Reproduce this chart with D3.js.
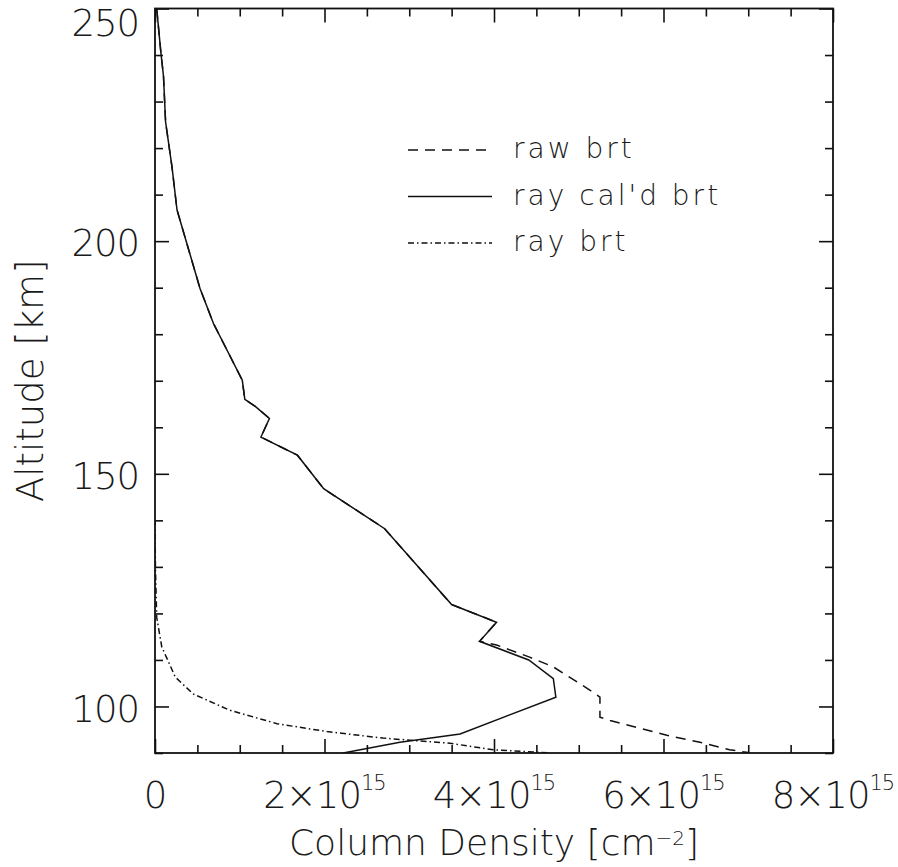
<!DOCTYPE html>
<html>
<head>
<meta charset="utf-8">
<script src="https://cdn.jsdelivr.net/npm/d3@7"></script>
<style>
  body { margin: 0; background: #fff; }
  svg text { font-family: "DejaVu Sans", sans-serif; font-weight: 200; fill: #1a1a1a; }
</style>
</head>
<body>
<div id="chart"></div>
<script>
// values in units of 1e15 cm^-2, altitude in km
var calAlt = [250, 240.4, 235.5, 225.6, 216, 206.7, 198, 189.9, 182.3, 170.1, 166, 164.4, 161.9, 157.9, 154, 146.8, 138.2, 121.9, 118.1, 114, 110, 106, 102, 94.1, 92.3, 90];
var calVal = [0.02, 0.07, 0.10, 0.125, 0.2, 0.26, 0.4, 0.53, 0.69, 1.03, 1.06, 1.19, 1.35, 1.25, 1.68, 1.99, 2.71, 3.50, 4.03, 3.83, 4.41, 4.70, 4.73, 3.60, 2.89, 2.22];

var rawAlt = [250, 240.4, 235.5, 225.6, 216, 206.7, 198, 189.9, 182.3, 170.1, 166, 164.4, 161.9, 157.9, 154, 146.8, 138.2, 121.9, 118.1, 114, 113.2, 110.6, 108.5, 104, 102, 97.7, 97, 93.8, 92.3, 90.7, 90.1];
var rawVal = [0.02, 0.07, 0.10, 0.125, 0.2, 0.26, 0.4, 0.53, 0.69, 1.03, 1.06, 1.19, 1.35, 1.25, 1.68, 1.99, 2.71, 3.50, 4.03, 3.83, 4.03, 4.42, 4.70, 5.09, 5.25, 5.25, 5.37, 6.04, 6.43, 6.78, 7.0];

var rayAlt = [140, 130, 119.2, 112.8, 106.3, 102.7, 99.2, 96.3, 94.6, 93.2, 92.1, 90.7, 90.0];
var rayVal = [0.0, 0.005, 0.02, 0.08, 0.24, 0.45, 0.88, 1.44, 2.03, 2.69, 3.48, 3.99, 4.66];

var xMajor = [0, 2, 4, 6, 8];
var yMajor = [100, 150, 200, 250];
var legendNames = ["raw brt", "ray cal'd brt", "ray brt"];

var W = 898, H = 867;
var margin = { top: 8.5, right: 65, bottom: 114, left: 155 };
var width = W - margin.left - margin.right;
var height = H - margin.top - margin.bottom;

var svg = d3.select("#chart").append("svg")
    .attr("width", W)
    .attr("height", H);

var g = svg.append("g")
    .attr("transform", "translate(" + margin.left + "," + margin.top + ")");

var x = d3.scaleLinear().domain([0, 8]).range([0, width]);
var y = d3.scaleLinear().domain([90, 250]).range([height, 0]);

var xMinor = d3.range(0, 8.01, 0.5).filter(d => xMajor.indexOf(d) < 0);
var yMinor = d3.range(90, 251, 10).filter(d => yMajor.indexOf(d) < 0);

// ticks on all four sides, pointing inward
function ticks(axis, vals, len, tr) {
    var a = g.append("g").attr("transform", tr)
        .call(axis.tickValues(vals).tickSize(-len).tickSizeOuter(0).tickFormat(""));
    a.select(".domain").remove();
    a.selectAll("line").attr("stroke", "#111").attr("stroke-width", 1.6);
}
ticks(d3.axisBottom(x), xMajor, 14, "translate(0," + height + ")");
ticks(d3.axisBottom(x), xMinor, 8, "translate(0," + height + ")");
ticks(d3.axisTop(x), xMajor, 14, "translate(0,0)");
ticks(d3.axisTop(x), xMinor, 8, "translate(0,0)");
ticks(d3.axisLeft(y), yMajor, 14, "translate(0,0)");
ticks(d3.axisLeft(y), yMinor, 8, "translate(0,0)");
ticks(d3.axisRight(y), yMajor, 14, "translate(" + width + ",0)");
ticks(d3.axisRight(y), yMinor, 8, "translate(" + width + ",0)");

g.append("rect")
    .attr("width", width).attr("height", height)
    .attr("fill", "none").attr("stroke", "#111").attr("stroke-width", 1.8);

// x tick labels
var xl = g.selectAll(".xl").data(xMajor).enter().append("text")
    .attr("x", d => x(d))
    .attr("y", height + 55)
    .attr("text-anchor", "middle")
    .style("font-size", "37px")
    .style("letter-spacing", "-1px");
xl.each(function(d) {
    var t = d3.select(this);
    if (d === 0) { t.text("0"); return; }
    t.append("tspan").text(d + "\u00d710");
    t.append("tspan").attr("dy", -18).style("font-size", "21px").text("15");
});

// y tick labels
g.selectAll(".yl").data(yMajor).enter().append("text")
    .attr("x", -16)
    .attr("y", d => Math.max(y(d) + 2, 14))
    .attr("dy", "0.36em")
    .attr("text-anchor", "end")
    .style("font-size", "37px")
    .style("letter-spacing", "-1px")
    .text(d => d);

// axis titles
var xt = g.append("text")
    .attr("x", width / 2)
    .attr("y", height + 102)
    .attr("text-anchor", "middle")
    .style("font-size", "36px");
xt.append("tspan").text("Column Density [cm");
xt.append("tspan").attr("dy", -10).style("font-size", "20px").text("\u22122");
xt.append("tspan").attr("dy", 10).text("]");

g.append("text")
    .attr("transform", "translate(" + (43 - margin.left) + "," + (height / 2) + ") rotate(-90)")
    .attr("text-anchor", "middle")
    .style("font-size", "37px")
    .text("Altitude [km]");

// curves
var line = d3.line().x(d => x(d[1])).y(d => y(d[0]));
var series = [
    { pts: d3.zip(rawAlt, rawVal), dash: "10,7" },
    { pts: d3.zip(calAlt, calVal), dash: null },
    { pts: d3.zip(rayAlt, rayVal), dash: "6,3,1.5,3" }
];

g.append("clipPath").attr("id", "clip")
    .append("rect").attr("width", width).attr("height", height);

series.forEach(function(s) {
    g.append("path")
        .datum(s.pts)
        .attr("clip-path", "url(#clip)")
        .attr("fill", "none")
        .attr("stroke", "#111")
        .attr("stroke-width", 1.5)
        .attr("stroke-dasharray", s.dash)
        .attr("d", line);
});

// legend
var lg = g.append("g").attr("transform", "translate(" + (408 - margin.left) + "," + (150 - margin.top) + ")");
legendNames.forEach(function(name, i) {
    lg.append("line")
        .attr("x1", 0).attr("x2", 84)
        .attr("y1", i * 46.5).attr("y2", i * 46.5)
        .attr("stroke", "#111").attr("stroke-width", 1.5)
        .attr("stroke-dasharray", series[i].dash);
    lg.append("text")
        .attr("x", 105)
        .attr("y", i * 46.5)
        .attr("dy", "0.3em")
        .style("font-size", "28px")
        .style("letter-spacing", "3px")
        .text(name);
});
</script>
</body>
</html>
